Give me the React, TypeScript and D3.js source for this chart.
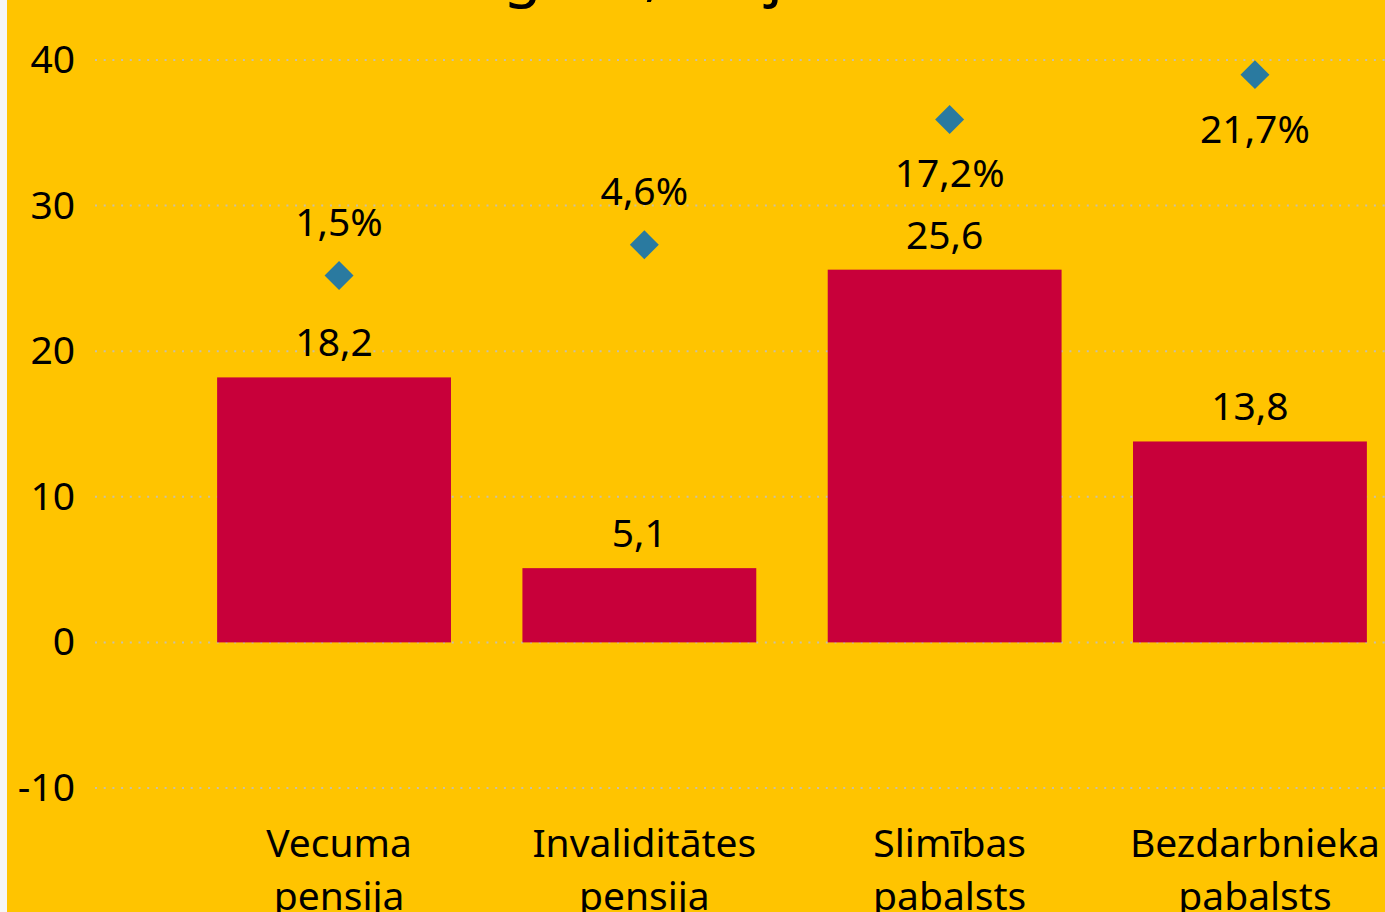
import React, { useRef, useEffect } from 'react';
import * as d3 from 'd3';

const categories = [
  ['Vecuma', 'pensija'],
  ['Invaliditātes', 'pensija'],
  ['Slimības', 'pabalsts'],
  ['Bezdarbnieka', 'pabalsts'],
];
const amounts = [18.2, 5.1, 25.6, 13.8];
const shares = [1.5, 4.6, 17.2, 21.7];
const shareLabelSide = ['above', 'above', 'below', 'below'];
const yTicks = [-10, 0, 10, 20, 30, 40];
const title = '2008. gads, milj. latu';

const W = 1385;
const H = 912;
const FONT = '"Noto Sans", "Open Sans", sans-serif';

export default function App() {
  const svgRef = useRef<SVGSVGElement>(null);

  useEffect(() => {
    if (!svgRef.current) return;
    const svg = d3.select(svgRef.current);
    svg.selectAll('*').remove();

    const lv = d3.formatLocale({ decimal: ',', thousands: ' ', grouping: [3], currency: ['', ''] });
    const fmt = lv.format('.1f');

    const x = d3.scaleBand<number>()
      .domain(d3.range(categories.length))
      .range([186.4, 1407.6])
      .padding(0);

    const y = d3.scaleLinear().domain([-10, 40]).range([788, 60]);
    const y2 = d3.scaleLinear().domain([-50, 23.17]).range([788, 60]);

    const cx = (i: number) => (x(i) as number) + x.bandwidth() / 2;
    const barW = x.bandwidth() * 0.766;

    // background
    svg.append('rect').attr('x', 0).attr('y', 0).attr('width', W).attr('height', H).attr('fill', '#f6f6f6');
    svg.append('rect').attr('x', 7).attr('y', 0).attr('width', W - 7).attr('height', H).attr('fill', '#ffc400');

    // title (cut off at the top)
    svg.append('text')
      .attr('x', 329)
      .attr('y', -6)
      .attr('font-family', FONT)
      .attr('font-size', 62)
      .attr('fill', '#000')
      .text(title);

    // gridlines
    svg.append('g')
      .selectAll('line')
      .data(yTicks)
      .enter().append('line')
      .attr('x1', 95)
      .attr('x2', W)
      .attr('y1', d => y(d))
      .attr('y2', d => y(d))
      .attr('stroke', '#c8c0a8')
      .attr('stroke-width', 2)
      .attr('stroke-dasharray', '2,6.7');

    // y tick labels
    svg.append('g')
      .selectAll('text')
      .data(yTicks)
      .enter().append('text')
      .attr('x', 75)
      .attr('y', d => y(d) + 13)
      .attr('text-anchor', 'end')
      .attr('font-family', FONT)
      .attr('font-size', 39)
      .attr('fill', '#000')
      .text(d => String(d));

    // bars
    svg.append('g')
      .selectAll('rect')
      .data(amounts)
      .enter().append('rect')
      .attr('x', (d, i) => cx(i) - 5 - barW / 2)
      .attr('y', d => y(d))
      .attr('width', barW)
      .attr('height', d => y(0) - y(d))
      .attr('fill', '#c8003a');

    // bar labels
    svg.append('g')
      .selectAll('text')
      .data(amounts)
      .enter().append('text')
      .attr('x', (d, i) => cx(i) - 5)
      .attr('y', d => y(d) - 21)
      .attr('text-anchor', 'middle')
      .attr('font-family', FONT)
      .attr('font-size', 39)
      .attr('fill', '#000')
      .text(d => fmt(d));

    // diamonds
    const diamond = d3.symbol().type(d3.symbolSquare).size(420);
    svg.append('g')
      .selectAll('path')
      .data(shares)
      .enter().append('path')
      .attr('d', diamond)
      .attr('transform', (d, i) => `translate(${cx(i)},${y2(d)}) rotate(45)`)
      .attr('fill', '#2a7aa0');

    // share labels
    svg.append('g')
      .selectAll('text')
      .data(shares)
      .enter().append('text')
      .attr('x', (d, i) => cx(i))
      .attr('y', (d, i) => y2(d) + (shareLabelSide[i] === 'above' ? -40 : 68))
      .attr('text-anchor', 'middle')
      .attr('font-family', FONT)
      .attr('font-size', 39)
      .attr('fill', '#000')
      .text(d => fmt(d) + '%');

    // category labels
    const cat = svg.append('g')
      .selectAll('text')
      .data(categories)
      .enter().append('text')
      .attr('x', (d, i) => cx(i))
      .attr('y', 857)
      .attr('text-anchor', 'middle')
      .attr('font-family', FONT)
      .attr('font-size', 39)
      .attr('fill', '#000');
    cat.selectAll('tspan')
      .data(d => d)
      .enter().append('tspan')
      .attr('x', function () { return (this.parentNode as SVGTextElement).getAttribute('x'); })
      .attr('dy', (d, j) => (j === 0 ? 0 : 53))
      .text(d => d);
  }, []);

  return (
    <svg
      ref={svgRef}
      width={W}
      height={H}
      viewBox={`0 0 ${W} ${H}`}
      style={{ position: 'absolute', left: 0, top: 0, display: 'block' }}
    />
  );
}
